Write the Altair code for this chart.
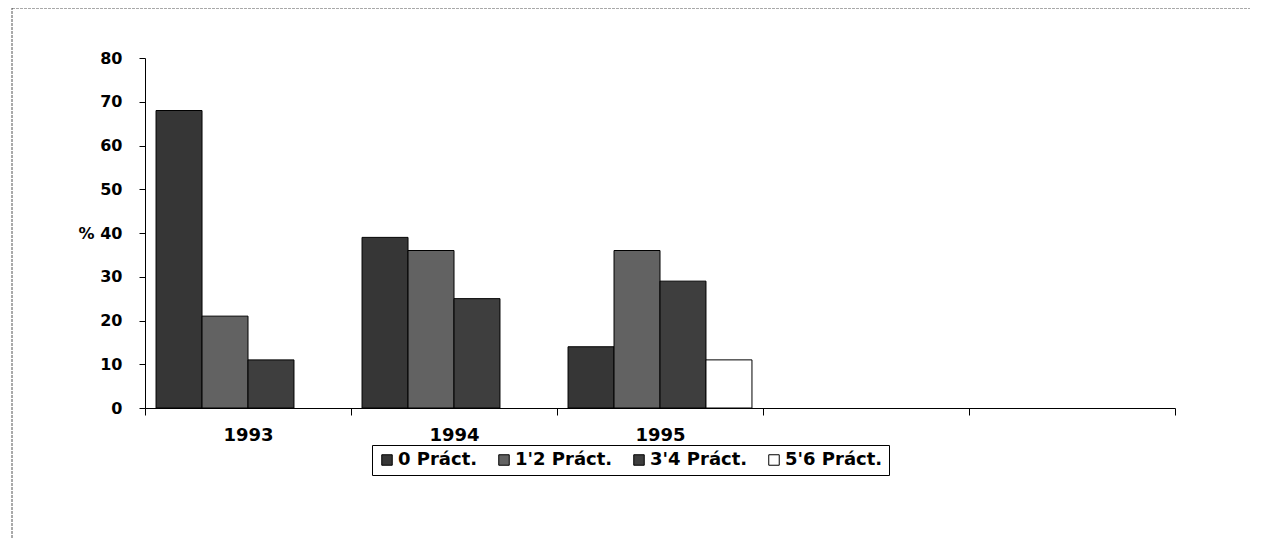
import altair as alt
import pandas as pd

years = ["1993", "1994", "1995", "c4", "c5"]
series = ["0 Práct.", "1'2 Práct.", "3'4 Práct.", "5'6 Práct."]
v0 = [68, 39, 14]
v12 = [21, 36, 36]
v34 = [11, 25, 29]
v56 = [0, 0, 11]
colors = ["#363636", "#626262", "#3e3e3e", "#ffffff"]
y_ticks = [0, 10, 20, 30, 40, 50, 60, 70, 80]

rows = []
for s, vals in zip(series, [v0, v12, v34, v56]):
    for yr, v in zip(years[:3], vals):
        rows.append({"year": yr, "serie": s, "value": v})
df = pd.DataFrame(rows)

W, H = 1030, 350
FONT = "DejaVu Sans"

bars = alt.Chart(df).transform_filter("datum.value > 0").mark_bar(stroke="#000000", strokeWidth=1).encode(
    x=alt.X("year:N", scale=alt.Scale(domain=years, paddingInner=0, paddingOuter=0),
            sort=years,
            axis=alt.Axis(title=None, labelAngle=0, tickBand="extent", tickSize=7,
                          labelPadding=11, labelFont=FONT, labelFontSize=18,
                          labelFontWeight="bold", labelColor="#000000",
                          domainColor="#000000", tickColor="#000000",
                          labelExpr="indexof(['1993','1994','1995'], datum.label) >= 0 ? datum.label : ''")),
    xOffset=alt.XOffset("serie:N", sort=series,
                        scale=alt.Scale(domain=series, paddingInner=0, paddingOuter=0.24)),
    y=alt.Y("value:Q", scale=alt.Scale(domain=[0, 80], nice=False),
            axis=alt.Axis(values=y_ticks, title="%", titleAngle=0, titleX=-59, titleY=H / 2,
                          titleAlign="center", titleBaseline="middle",
                          titleFont=FONT, titleFontSize=16, titleFontWeight="bold",
                          labelFont=FONT, labelFontSize=16, labelFontWeight="bold",
                          labelColor="#000000", labelPadding=17, tickSize=6,
                          grid=False, domainColor="#000000", tickColor="#000000")),
    color=alt.Color("serie:N", sort=series,
                    scale=alt.Scale(domain=series, range=colors),
                    legend=alt.Legend(title=None, orient="none", direction="horizontal",
                                      legendX=227, legendY=387,
                                      strokeColor="#000000", padding=6,
                                      symbolType="square", symbolSize=110,
                                      symbolStrokeColor="#000000", symbolStrokeWidth=1,
                                      labelFont=FONT, labelFontSize=18, labelFontWeight="bold",
                                      labelColor="#000000", columnPadding=17,
                                      symbolOffset=0, labelOffset=2)),
)

frame = alt.Chart(pd.DataFrame({"k": [0]})).mark_rect(
    fill=None, stroke="#555555", strokeWidth=1, strokeDash=[3, 1]
).encode(
    x=alt.value(12 - 145), x2=alt.value(1257 - 145),
    y=alt.value(8 - 58), y2=alt.value(546 - 58)
)

chart = alt.layer(frame, bars).properties(
    width=W, height=H,
    autosize=alt.AutoSizeParams(type="none"),
    padding={"left": 137, "top": 50, "right": 75, "bottom": 130},
).configure(background="#ffffff").configure_view(strokeWidth=0, stroke=None)

chart.save("out.html", embed_options={"renderer": "svg", "actions": False})
